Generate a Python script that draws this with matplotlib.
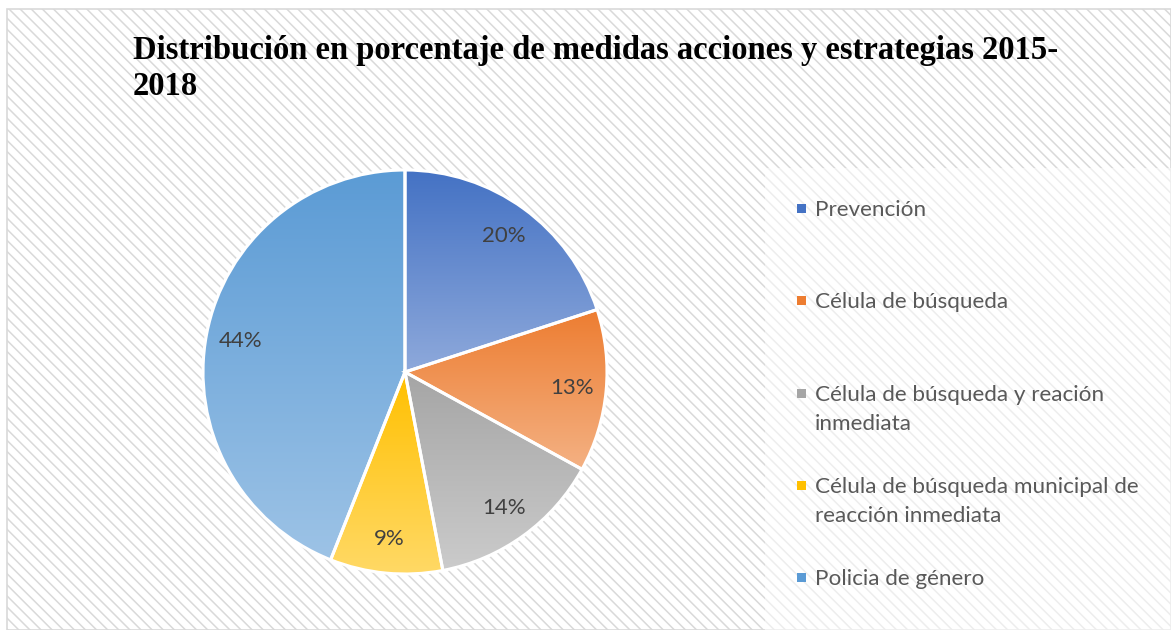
import numpy as np
import matplotlib
matplotlib.use("Agg")
import matplotlib.pyplot as plt
from matplotlib.patches import Rectangle
from matplotlib.colors import LinearSegmentedColormap

categories = ["Prevención", "Célula de búsqueda", "Célula de búsqueda y reación\ninmediata",
              "Célula de búsqueda municipal de\nreacción inmediata", "Policia de género"]
values = [20, 13, 14, 9, 44]
top_colors = ["#4472C4", "#ED7D31", "#A5A5A5", "#FFC000", "#5B9BD5"]
bottom_colors = ["#8EA9DB", "#F4B183", "#CBCBCB", "#FFD966", "#9DC3E6"]
title = "Distribución en porcentaje de medidas acciones y estrategias 2015-\n2018"

W, H = 1171, 630
fig = plt.figure(figsize=(W / 100, H / 100), dpi=100)
fig.patch.set_facecolor("white")

plt.rcParams["hatch.linewidth"] = 1.1
plt.rcParams["hatch.color"] = "#d4d4d4"

# background hatched chart area with border
bg = Rectangle((7 / W, 0), (W - 7) / W, (H - 9) / H, transform=fig.transFigure,
               facecolor="white", edgecolor="#d9d9d9", hatch="\\\\\\", linewidth=1.2, zorder=-3)
fig.patches.append(bg)
# legend area (lighter)
lg = Rectangle((765 / W, 0), (W - 765) / W, (H - 168) / H, transform=fig.transFigure,
               facecolor=(1, 1, 1, 0.55), edgecolor="none", zorder=-2)
fig.patches.append(lg)

fig.text(133 / W, 1 - 35 / H, title, fontsize=23.5, fontweight="bold",
         family="Liberation Serif", va="top", ha="left", linespacing=1.2)

cx, cy, r = 405, 372, 202
ax = fig.add_axes([(cx - r) / W, (H - cy - r) / H, 2 * r / W, 2 * r / H])
ax.set_facecolor("none")
wedges, texts, autotexts = ax.pie(values, startangle=90, counterclock=False,
                                  autopct="%1.0f%%", pctdistance=0.83,
                                  wedgeprops=dict(edgecolor="white", linewidth=2.2),
                                  textprops=dict(fontsize=16, color="#404040", family="Lato"))
grad = np.linspace(0, 1, 256).reshape(-1, 1)
for w, c0, c1 in zip(wedges, top_colors, bottom_colors):
    w.set_facecolor("none")
    ext = w.get_path().get_extents()
    cmap = LinearSegmentedColormap.from_list("g", [c0, c1])
    im = ax.imshow(grad, cmap=cmap, aspect="auto", origin="upper",
                   extent=[ext.x0, ext.x1, ext.y0, ext.y1], zorder=0.5, interpolation="bilinear")
    im.set_clip_path(w)
    w.set_zorder(1)
for t in autotexts:
    t.set_zorder(3)
ax.set_xlim(-1, 1)
ax.set_ylim(-1, 1)
ax.set_aspect("equal")
ax.axis("off")

# manual legend
leg_y = [208, 300, 393, 485, 577]
for lab, c0, c1, y in zip(categories, top_colors, bottom_colors, leg_y):
    fig.add_artist(Rectangle((797 / W, 1 - (y + 4.5) / H), 9 / W, 9 / H,
                             transform=fig.transFigure, facecolor=c0, edgecolor="none", zorder=3))
    fig.text(815 / W, 1 - (y - 8) / H, lab, fontsize=16.2, color="#595959", family="Lato",
             va="top", ha="left", linespacing=1.55, zorder=3)

fig.savefig("out.png", dpi=100)
